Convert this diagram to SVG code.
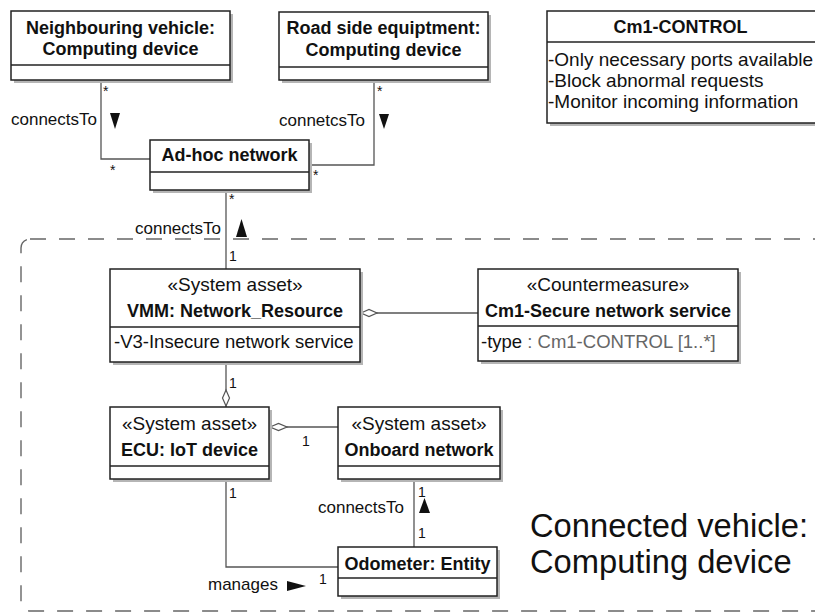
<svg xmlns="http://www.w3.org/2000/svg" width="815" height="612" viewBox="0 0 815 612">
<style>
text{font-family:"Liberation Sans",Arial,sans-serif;fill:#111}
.box{fill:#fff;stroke:#222;stroke-width:1.5}
.sh{fill:#b5b5b5}
.div{stroke:#222;stroke-width:1.3}
.t{font-size:18px;font-weight:bold;text-anchor:middle}
.st{font-size:19px;text-anchor:middle}
.at{font-size:18.5px}
.lbl{font-size:17px}
.m{font-size:14px}
.con{fill:none;stroke:#555;stroke-width:1.3}
.dia{fill:#fff;stroke:#555;stroke-width:1.2}
.arr{fill:#111}
.big{font-size:32.7px}
</style>
<rect x="21" y="239" width="820" height="372" rx="9" fill="none" stroke="#666" stroke-width="1.4" stroke-dasharray="16 13"/>
<g id="connectors">
<polyline class="con" points="101,80 101,159 150,159"/>
<polyline class="con" points="374,80 374,165 309,165"/>
<line class="con" x1="226" y1="190" x2="226" y2="269"/>
<line class="con" x1="360" y1="313" x2="478" y2="313"/>
<polygon class="dia" points="361,313 369,309.5 377,313 369,316.5"/>
<line class="con" x1="226" y1="362" x2="226" y2="407"/>
<polygon class="dia" points="226,390 229.5,398 226,406 222.5,398"/>
<line class="con" x1="269" y1="427" x2="338" y2="427"/>
<polygon class="dia" points="270,427 278.5,423.5 287,427 278.5,430.5"/>
<line class="con" x1="414" y1="479" x2="414" y2="547"/>
<polyline class="con" points="226,479 226,567 338,567"/>
<text class="m" x="103" y="96">*</text>
<text class="m" x="110" y="175">*</text>
<text class="lbl" x="11" y="125">connectsTo</text>
<polygon class="arr" points="110,113 120,113 115,129"/>
<text class="m" x="377" y="96">*</text>
<text class="m" x="313" y="180">*</text>
<text class="lbl" x="279" y="126">connetcsTo</text>
<polygon class="arr" points="379,114 389,114 384,129"/>
<text class="m" x="229" y="204">*</text>
<text class="lbl" x="135" y="234">connectsTo</text>
<polygon class="arr" points="236,237 247,237 241.5,219"/>
<text class="m" x="229" y="261">1</text>
<text class="m" x="229" y="388">1</text>
<text class="m" x="302" y="446">1</text>
<text class="m" x="229" y="498">1</text>
<text class="m" x="418" y="497">1</text>
<polygon class="arr" points="419,513 430,513 424.5,498"/>
<text class="lbl" x="318" y="513">connectsTo</text>
<text class="m" x="418" y="538">1</text>
<text class="m" x="319" y="584">1</text>
<text class="lbl" x="208" y="590">manages</text>
<polygon class="arr" points="287,581 306,586 287,591"/>
</g>
<g id="neighbouring">
<rect class="sh" x="14" y="14" width="219" height="69"/>
<rect class="box" x="11" y="11" width="219" height="69"/>
<line class="div" x1="11" y1="65" x2="230" y2="65"/>
<text class="t" x="120.5" y="34">Neighbouring vehicle:</text>
<text class="t" x="120.5" y="55">Computing device</text>
</g>
<g id="roadside">
<rect class="sh" x="282" y="15" width="209" height="68"/>
<rect class="box" x="279" y="12" width="209" height="68"/>
<line class="div" x1="279" y1="67" x2="488" y2="67"/>
<text class="t" x="383.5" y="34">Road side equiptment:</text>
<text class="t" x="383.5" y="56">Computing device</text>
</g>
<g id="cm1control">
<rect class="sh" x="550" y="14" width="270" height="112"/>
<rect class="box" x="547" y="11" width="270" height="112"/>
<line class="div" x1="547" y1="42" x2="817" y2="42"/>
<text class="t" x="680.5" y="33">Cm1-CONTROL</text>
<text style="font-size:19px" x="548" y="66">-Only necessary ports available</text>
<text style="font-size:19px" x="548" y="87">-Block abnormal requests</text>
<text style="font-size:19px" x="548" y="108">-Monitor incoming information</text>
</g>
<g id="adhoc">
<rect class="sh" x="153" y="143" width="159" height="50"/>
<rect class="box" x="150" y="140" width="159" height="50"/>
<line class="div" x1="150" y1="172" x2="309" y2="172"/>
<text class="t" x="229.5" y="161">Ad-hoc network</text>
</g>
<g id="vmm">
<rect class="sh" x="113" y="272" width="250" height="93"/>
<rect class="box" x="110" y="269" width="250" height="93"/>
<line class="div" x1="110" y1="327" x2="360" y2="327"/>
<text class="st" x="235" y="291">«System asset»</text>
<text class="t" x="235" y="317">VMM: Network_Resource</text>
<text class="at" x="114" y="348">-V3-Insecure network service</text>
</g>
<g id="countermeasure">
<rect class="sh" x="481" y="272" width="260" height="92"/>
<rect class="box" x="478" y="269" width="260" height="92"/>
<line class="div" x1="478" y1="326" x2="738" y2="326"/>
<text class="st" x="608" y="291">«Countermeasure»</text>
<text class="t" x="608" y="317">Cm1-Secure network service</text>
<text class="at" x="481" y="348">-type<tspan fill="#666"> : Cm1-CONTROL [1..*]</tspan></text>
</g>
<g id="ecu">
<rect class="sh" x="113" y="410" width="159" height="72"/>
<rect class="box" x="110" y="407" width="159" height="72"/>
<line class="div" x1="110" y1="466" x2="269" y2="466"/>
<text class="st" x="189.5" y="430">«System asset»</text>
<text class="t" x="189.5" y="456">ECU: IoT device</text>
</g>
<g id="onboard">
<rect class="sh" x="341" y="410" width="162" height="72"/>
<rect class="box" x="338" y="407" width="162" height="72"/>
<line class="div" x1="338" y1="466" x2="500" y2="466"/>
<text class="st" x="419" y="430">«System asset»</text>
<text class="t" x="419" y="456">Onboard network</text>
</g>
<g id="odometer">
<rect class="sh" x="341" y="550" width="159" height="49"/>
<rect class="box" x="338" y="547" width="159" height="49"/>
<line class="div" x1="338" y1="578" x2="497" y2="578"/>
<text class="t" x="417.5" y="570">Odometer: Entity</text>
</g>
<g id="vehicle-label">
<text class="big" x="530" y="537">Connected vehicle:</text>
<text class="big" x="530" y="573">Computing device</text>
</g>
</svg>
